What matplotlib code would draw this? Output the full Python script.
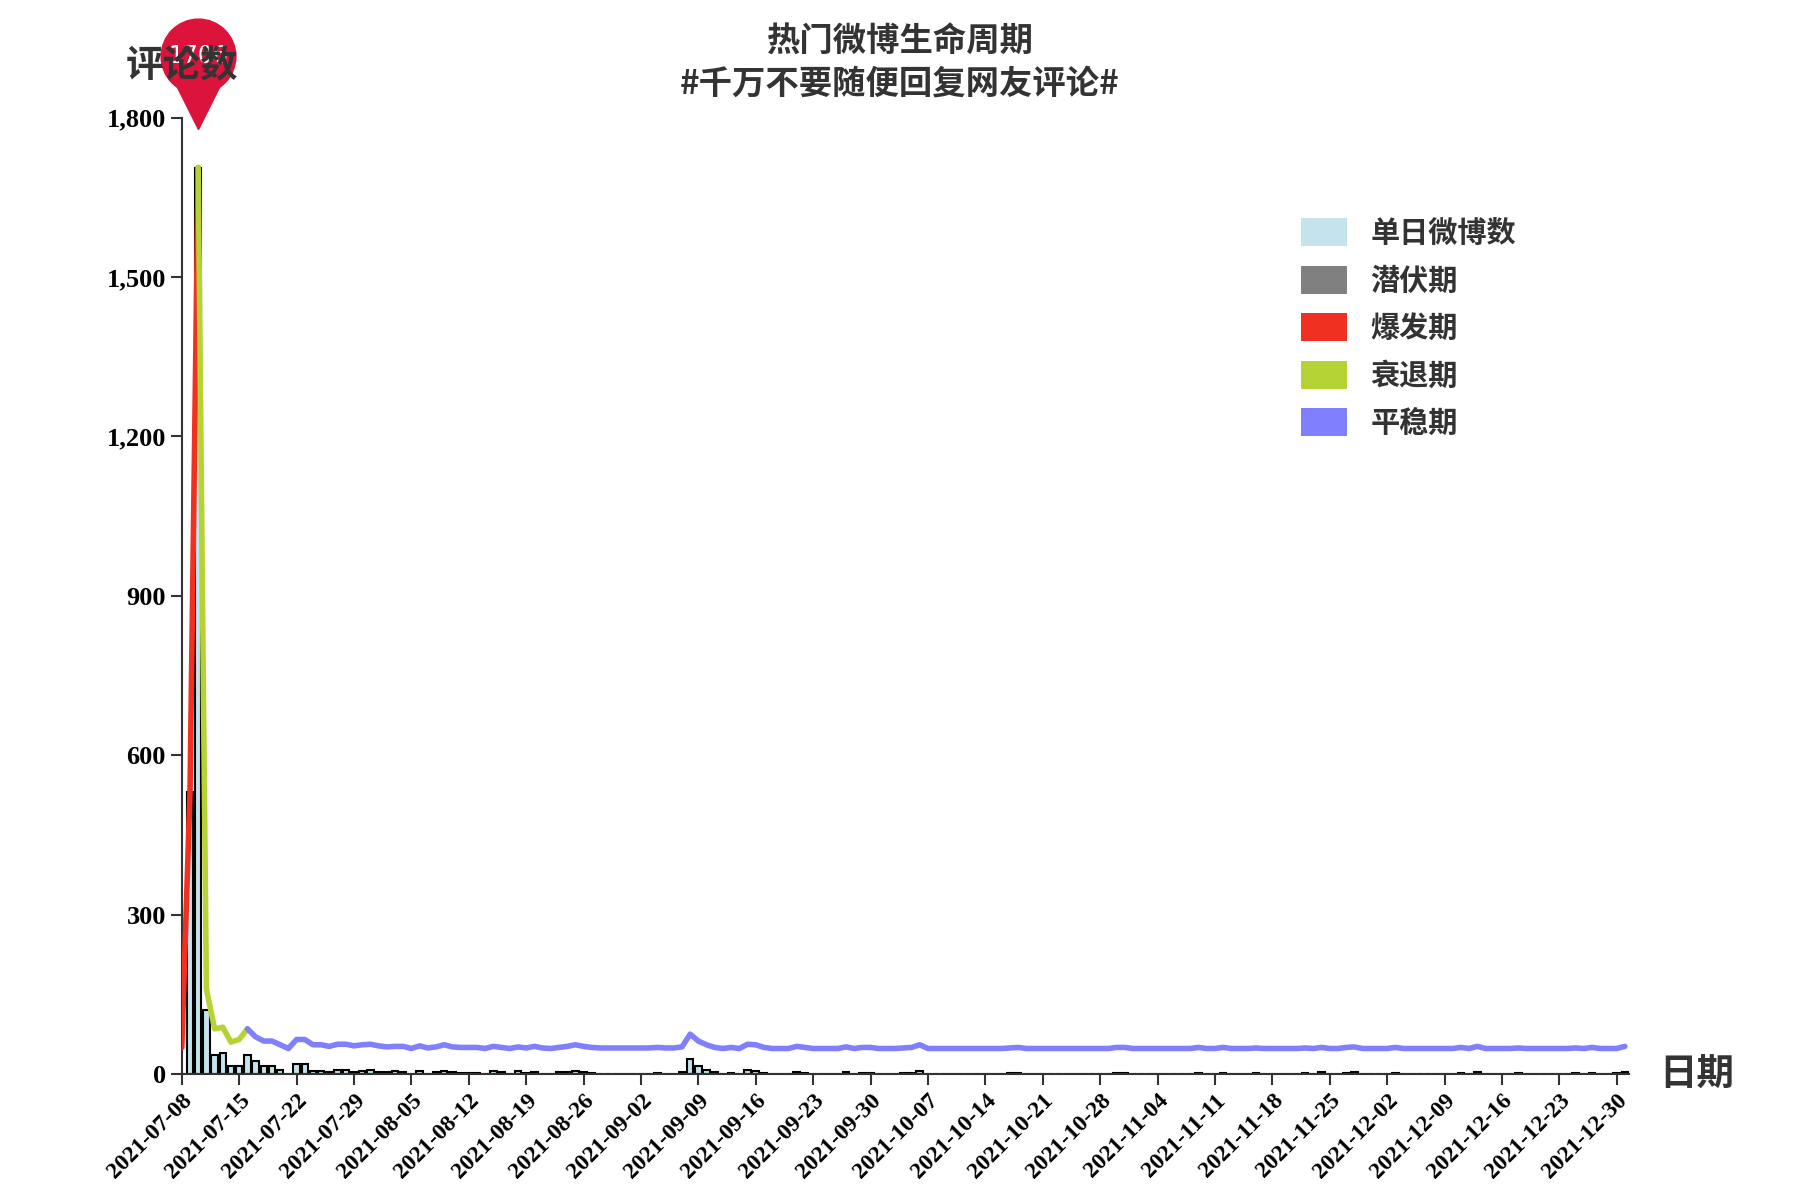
import numpy as np
import pandas as pd
import matplotlib
matplotlib.use('Agg')
import matplotlib.pyplot as plt
from matplotlib.patches import Patch

plt.rcParams['font.family'] = ['Noto Sans CJK SC', 'DejaVu Sans']

dates = pd.date_range('2021-07-08', '2021-12-31', freq='D')

# daily comment counts (line)
comments = [
    50, 530, 1706, 160, 85, 88, 60, 65, 85, 70, 62, 62, 55, 48,
    65, 65, 55, 55, 52, 56, 56, 53, 55, 56, 53, 51, 52, 52,
    48, 53, 49, 51, 55, 51, 50, 50, 50, 48, 52, 50, 48, 51,
    49, 52, 49, 48, 50, 52, 55, 52, 50, 49, 49, 49, 49, 49,
    49, 49, 50, 49, 49, 51, 75, 62, 55, 50, 48, 50, 48, 56,
    55, 50, 48, 48, 48, 52, 50, 48, 48, 48, 48, 51, 48, 50,
    50, 48, 48, 48, 49, 50, 55, 48, 48, 48, 48, 48, 48, 48,
    48, 48, 48, 49, 50, 48, 48, 48, 48, 48, 48, 48, 48, 48,
    48, 48, 50, 50, 48, 48, 48, 48, 48, 48, 48, 48, 50, 48,
    48, 50, 48, 48, 48, 49, 48, 48, 48, 48, 48, 49, 48, 50,
    48, 48, 50, 51, 48, 48, 48, 48, 50, 48, 48, 48, 48, 48,
    48, 48, 50, 48, 52, 48, 48, 48, 48, 49, 48, 48, 48, 48,
    48, 48, 49, 48, 50, 48, 48, 48, 52,
]

# daily weibo counts (bars)
posts = [
    0, 530, 1706, 120, 35, 40, 15, 15, 35, 25, 15, 15, 8, 0,
    18, 18, 6, 6, 3, 8, 8, 3, 5, 8, 3, 3, 5, 3,
    0, 6, 0, 3, 6, 3, 2, 2, 2, 0, 5, 3, 0, 5,
    2, 3, 0, 0, 3, 3, 6, 3, 2, 0, 0, 0, 0, 0,
    0, 0, 2, 0, 0, 3, 28, 15, 8, 3, 0, 2, 0, 8,
    6, 2, 0, 0, 0, 4, 2, 0, 0, 0, 0, 3, 0, 2,
    2, 0, 0, 0, 1, 2, 6, 0, 0, 0, 0, 0, 0, 0,
    0, 0, 0, 1, 2, 0, 0, 0, 0, 0, 0, 0, 0, 0,
    0, 0, 2, 2, 0, 0, 0, 0, 0, 0, 0, 0, 2, 0,
    0, 2, 0, 0, 0, 1, 0, 0, 0, 0, 0, 2, 0, 3,
    0, 0, 2, 3, 0, 0, 0, 0, 2, 0, 0, 0, 0, 0,
    0, 0, 2, 0, 4, 0, 0, 0, 0, 1, 0, 0, 0, 0,
    0, 0, 1, 0, 2, 0, 0, 2, 4,
]

# phase boundaries (index ranges, inclusive)
phases = [('潜伏期', 0, 0, '#808080'), ('爆发期', 0, 2, '#f03020'),
          ('衰退期', 2, 8, '#b5d334'), ('平稳期', 8, len(dates) - 1, '#8080ff')]

x = np.arange(len(dates))
fig = plt.figure(figsize=(18, 12), dpi=100)
ax = fig.add_axes([0.101, 0.105, 0.804, 0.797])

ax.bar(x, posts, width=0.8, color='#c5e3ec', edgecolor='black', linewidth=1.5, zorder=2)
for name, a, b, c in phases[1:]:
    ax.plot(x[a:b + 1], comments[a:b + 1], color=c, lw=4, zorder=3,
            solid_capstyle='round')

# pin marker on peak
peak = int(np.argmax(comments))
ax.scatter([peak], [comments[peak] + 120], s=1300, marker='v', color='#dc143c',
           zorder=5, clip_on=False)
ax.scatter([peak], [comments[peak] + 210], s=2900, marker='o', color='#dc143c',
           zorder=5, clip_on=False)
ax.text(peak, comments[peak] + 210, str(comments[peak]), color='white', fontsize=17,
        ha='center', va='center', zorder=6, family=['DejaVu Sans'])

ax.set_xlim(0, 176.5)
ax.set_ylim(0, 1800)
ticks = x[::7]
ax.set_xticks(ticks)
ax.set_xticklabels([dates[i].strftime('%Y-%m-%d') for i in ticks], rotation=45,
                   ha='right', rotation_mode='anchor', family='Liberation Serif',
                   fontweight='bold', fontsize=17)
ax.set_yticks(range(0, 1801, 300))
ax.set_yticklabels([f'{v:,}' for v in range(0, 1801, 300)], family='Liberation Serif',
                   fontweight='bold', fontsize=19)
ax.tick_params(length=8, width=1.5, color='#333333')
for s in ['top', 'right']:
    ax.spines[s].set_visible(False)
for s in ['left', 'bottom']:
    ax.spines[s].set_color('#333333')
    ax.spines[s].set_linewidth(1.5)

fig.text(0.5, 0.965, '热门微博生命周期', ha='center', va='center', fontsize=24,
         fontweight='bold', color='#333333')
fig.text(0.5, 0.93, '#千万不要随便回复网友评论#', ha='center', va='center', fontsize=24,
         fontweight='bold', color='#333333')
fig.text(0.101, 0.945, '评论数', ha='center', va='center', fontsize=27,
         fontweight='bold', color='#333333')
fig.text(0.922, 0.105, '日期', ha='left', va='center', fontsize=27,
         fontweight='bold', color='#333333')

handles = [Patch(facecolor='#c5e3ec', label='单日微博数')] + \
          [Patch(facecolor=c, label=n) for n, a, b, c in phases]
leg = fig.legend(handles=handles, loc='upper left', bbox_to_anchor=(0.708, 0.84),
                 frameon=False, handlelength=1.6, handleheight=1.1,
                 labelspacing=0.6, prop={'weight': 'bold', 'size': 21})
for t in leg.get_texts():
    t.set_color('#333333')

fig.savefig('out.png', dpi=100)
